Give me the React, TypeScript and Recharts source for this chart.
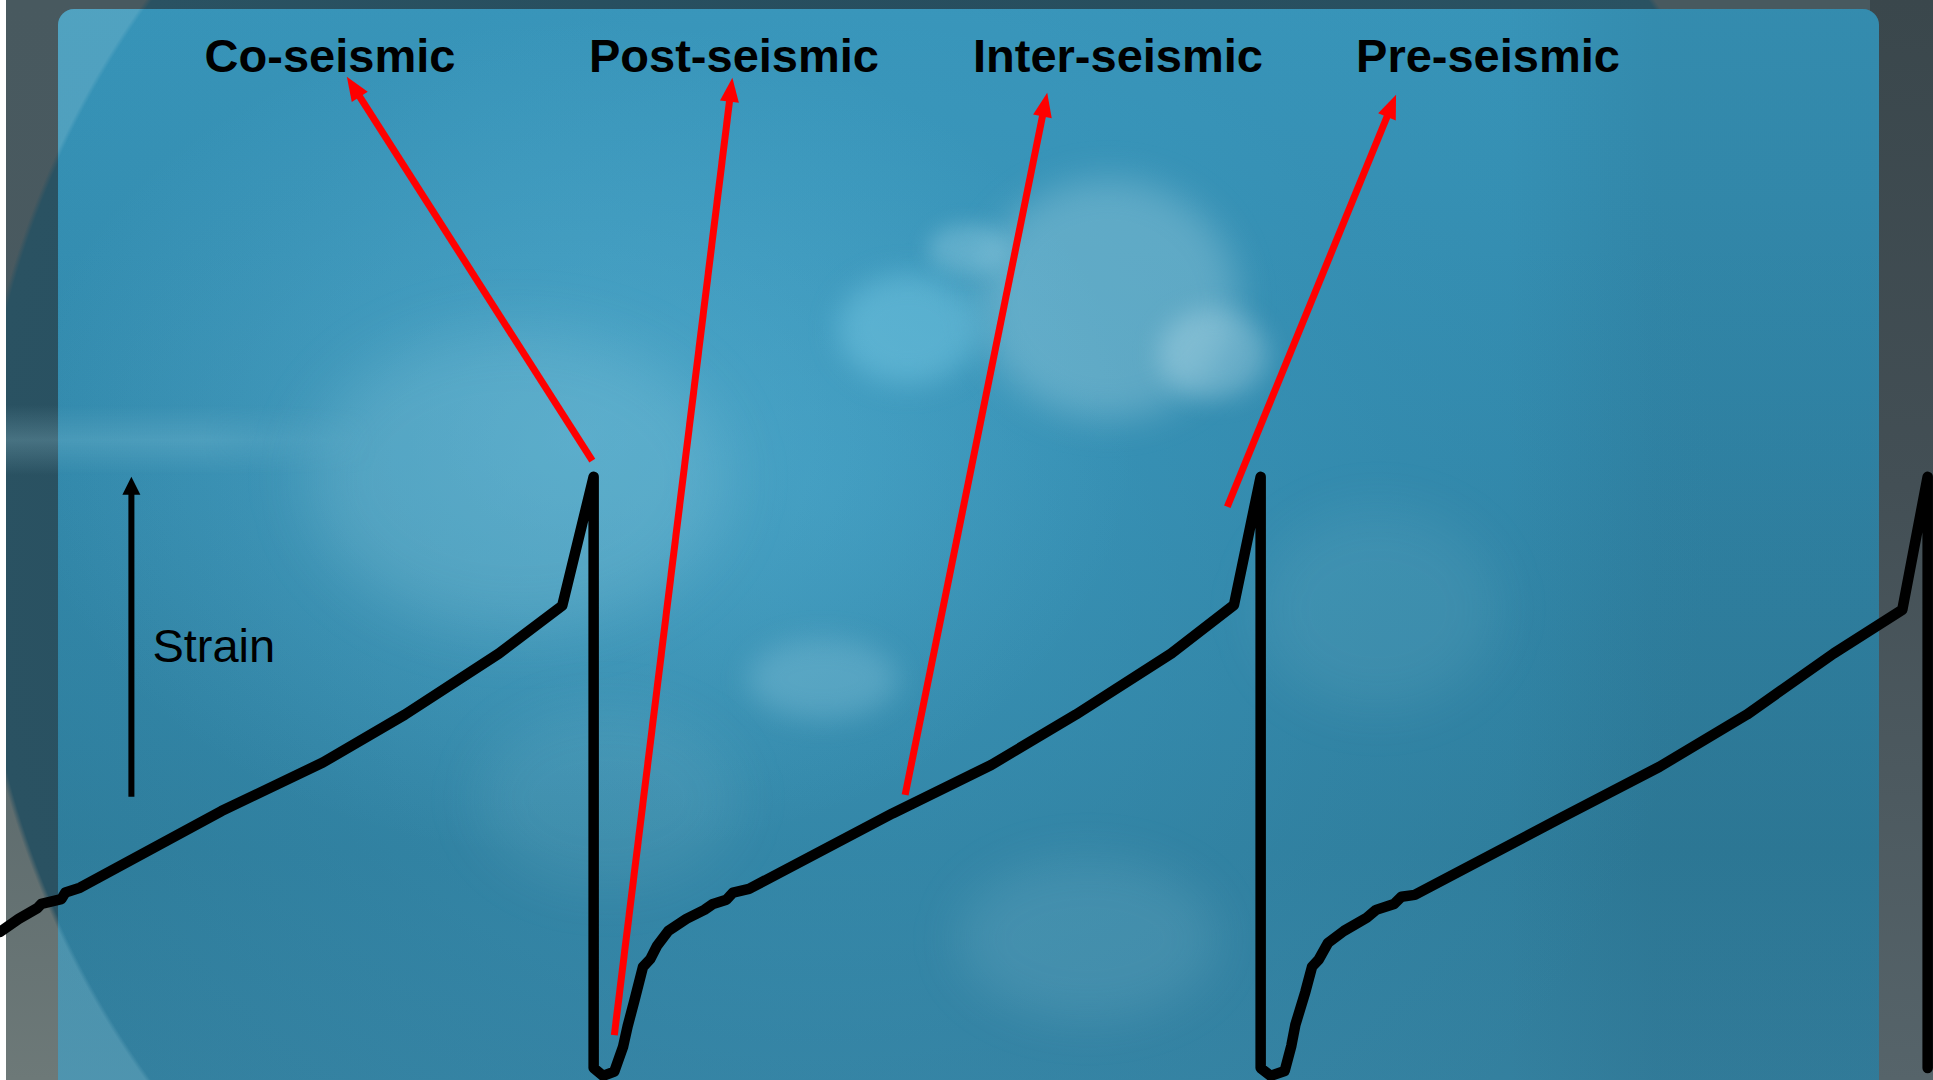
import { Line, LineChart, ReferenceLine, XAxis, YAxis } from 'recharts'

const W = 1933
const H = 1080
const FONT = '"Liberation Sans", Arial, Helvetica, sans-serif'

// time axis in years (one seismic cycle ~ 100 yr), strain in % of failure strain
const years = [
  11, 13.8, 16.6, 17.2, 20.2, 20.8, 23.0, 44.2, 59.4, 71.7, 85.8, 95.3, 100,
  100, 101.4, 103.1, 104.4, 105.1, 106.1, 107.4, 108.5, 109.5, 111.2, 113.9, 116.6, 117.9, 119.9, 120.9, 123.3,
  144.8, 159.6, 172.3, 186.6, 196.0, 200,
  200, 201.5, 203.6, 204.6, 205.2, 206.7, 207.7, 208.7, 210.1, 212.5, 215.9, 217.3, 220.0, 221.1, 223.1,
  245.1, 259.8, 272.9, 285.9, 296.2, 300,
  300,
]
const strain = [
  24.0, 26.2, 28.0, 28.7, 29.5, 30.6, 31.4, 44.2, 52.3, 60.3, 70.5, 78.5, 100,
  1.3, 0, 0.7, 4.8, 8.3, 12.5, 18.2, 19.5, 21.7, 24.2, 26.2, 27.7, 28.7, 29.4, 30.6, 31.2,
  43.8, 51.9, 60.3, 70.5, 78.6, 100,
  1.3, 0, 0.8, 5.0, 8.5, 14.0, 18.2, 19.4, 22.2, 24.2, 26.4, 27.7, 28.7, 29.9, 30.2,
  43.1, 51.6, 60.3, 70.5, 77.8, 100,
  1.3,
]

const phaseNames = ['Co-seismic', 'Post-seismic', 'Inter-seismic', 'Pre-seismic']
const arrowFromYear = [99.8, 103.1, 146.7, 195.0]
const arrowFromStrain = [102.7, 6.8, 46.9, 95.0]
const arrowToYear = [63.0, 120.8, 168.0, 220.3]
const arrowToStrain = [166.8, 166.6, 164.1, 163.8]

const strainAxisYear = 30.7
const strainAxisFrom = 46.6
const strainAxisTo = 100

// label layout (px)
const LABEL_CENTER_X = [330, 734, 1118, 1488]
const LABEL_BASELINE = 72

const data = years.map((y, i) => ({ year: y, strain: strain[i] }))

interface ArrowProps {
  x1?: number
  y1?: number
  x2?: number
  y2?: number
  color: string
  lineWidth: number
  head: number
  half: number
  children?: React.ReactNode
}

function Arrow({ x1 = 0, y1 = 0, x2 = 0, y2 = 0, color, lineWidth, head, half, children }: ArrowProps) {
  const dx = x2 - x1
  const dy = y2 - y1
  const len = Math.hypot(dx, dy) || 1
  const ux = dx / len
  const uy = dy / len
  const bx = x2 - ux * head
  const by = y2 - uy * head
  const px = -uy
  const py = ux
  return (
    <g>
      <line x1={x1} y1={y1} x2={bx + ux * 2} y2={by + uy * 2} stroke={color} strokeWidth={lineWidth} />
      <polygon
        points={`${x2},${y2} ${bx + px * half},${by + py * half} ${bx - px * half},${by - py * half}`}
        fill={color}
      />
      {children}
    </g>
  )
}

const blob = (left: number, top: number, w: number, h: number, color: string, blur: number) => (
  <div
    style={{
      position: 'absolute',
      left,
      top,
      width: w,
      height: h,
      borderRadius: '50%',
      background: color,
      filter: `blur(${blur}px)`,
    }}
  />
)

function Backdrop() {
  return (
    <div style={{ position: 'absolute', left: 0, top: 0, width: W, height: H, overflow: 'hidden', background: '#fff' }}>
      {/* outer frame */}
      <div
        style={{
          position: 'absolute',
          left: 6,
          top: 0,
          width: W - 6,
          height: H,
          background:
            'radial-gradient(circle 928px at 894px 540px, #24495a 0%, #2a5262 99.4%, rgba(0,0,0,0) 100%), linear-gradient(180deg, #48595f 0%, #4a5a60 40%, #5e6c6e 72%, #6d7978 100%)',
        }}
      />
      <div
        style={{
          position: 'absolute',
          left: 1870,
          top: 0,
          width: 63,
          height: H,
          background: 'linear-gradient(180deg, #3a474c 0%, #434f55 45%, #56646a 100%)',
        }}
      />
      <div
        style={{
          position: 'absolute',
          left: 6,
          top: 405,
          width: 300,
          height: 70,
          background: 'linear-gradient(180deg, rgba(160,210,225,0) 0%, rgba(160,210,225,0.25) 50%, rgba(160,210,225,0) 100%)',
        }}
      />
      {/* panel */}
      <div
        style={{
          position: 'absolute',
          left: 58,
          top: 9,
          width: 1821,
          height: 1120,
          borderRadius: 16,
          overflow: 'hidden',
          background:
            'radial-gradient(ellipse 560px 420px at 520px 430px, rgba(120,205,235,0.3), rgba(120,205,235,0) 100%), radial-gradient(circle 900px at 760px 480px, rgba(70,170,210,0.42) 0%, rgba(60,150,190,0.2) 65%, rgba(40,110,140,0) 100%), linear-gradient(180deg, #3794b8 0%, #3187a9 40%, #2e7c9a 75%, #3581a0 100%)',
        }}
      >
        {/* edge of the globe, lower left */}
        <div
          style={{
            position: 'absolute',
            left: 0,
            top: 0,
            width: 420,
            height: 1120,
            background: 'radial-gradient(circle 928px at 842px 531px, rgba(0,0,0,0) 99.5%, rgba(140,195,212,0.3) 100%)',
          }}
        />
        {/* darker right side */}
        <div
          style={{
            position: 'absolute',
            left: 1450,
            top: 0,
            width: 371,
            height: 1120,
            background: 'linear-gradient(90deg, rgba(30,80,105,0) 0%, rgba(30,80,105,0.12) 40%, rgba(30,80,105,0.12) 100%)',
          }}
        />
        <div
          style={{
            position: 'absolute',
            left: 0,
            top: 396,
            width: 320,
            height: 70,
            background: 'linear-gradient(180deg, rgba(160,215,230,0) 0%, rgba(160,215,230,0.2) 50%, rgba(160,215,230,0) 100%)',
            maskImage: 'linear-gradient(90deg, #000 0%, #000 45%, rgba(0,0,0,0) 100%)',
            WebkitMaskImage: 'linear-gradient(90deg, #000 0%, #000 45%, rgba(0,0,0,0) 100%)',
          }}
        />
        {/* clouds */}
        {blob(920, 170, 260, 240, 'rgba(190,225,235,0.3)', 18)}
        {blob(1100, 300, 110, 90, 'rgba(200,230,240,0.32)', 12)}
        {blob(780, 265, 140, 110, 'rgba(130,210,235,0.4)', 14)}
        {blob(870, 215, 80, 50, 'rgba(180,225,240,0.3)', 10)}
        {blob(250, 320, 420, 300, 'rgba(170,220,235,0.18)', 30)}
        {blob(690, 630, 150, 80, 'rgba(170,220,235,0.25)', 14)}
        {blob(900, 850, 260, 160, 'rgba(170,215,230,0.14)', 24)}
        {blob(1200, 500, 240, 200, 'rgba(170,215,230,0.1)', 26)}
        {blob(420, 700, 260, 180, 'rgba(170,215,230,0.1)', 26)}
      </div>
    </div>
  )
}

export default function App() {
  return (
    <div style={{ position: 'absolute', left: 0, top: 0, width: W, height: H, overflow: 'hidden' }}>
      <Backdrop />
      <div style={{ position: 'absolute', left: 0, top: 0 }}>
        <LineChart width={W} height={H} data={data} margin={{ top: 0, right: 0, bottom: 0, left: 0 }}>
          <XAxis type="number" dataKey="year" domain={[11, 300.8]} hide allowDataOverflow />
          <YAxis type="number" domain={[-0.7, 179.6]} hide allowDataOverflow width={0} />
          <Line
            type="linear"
            dataKey="strain"
            stroke="#000000"
            strokeWidth={10.5}
            strokeLinejoin="round"
            strokeLinecap="round"
            dot={false}
            activeDot={false}
            isAnimationActive={false}
          />
          {phaseNames.map((name, i) => (
            <ReferenceLine
              key={name}
              segment={[
                { x: arrowFromYear[i], y: arrowFromStrain[i] },
                { x: arrowToYear[i], y: arrowToStrain[i] },
              ]}
              ifOverflow="visible"
              stroke="#ff0000"
              shape={(p: any) => (
                <Arrow {...p} color="#ff0000" lineWidth={7} head={24} half={9.5}>
                  <text
                    x={LABEL_CENTER_X[i]}
                    y={LABEL_BASELINE}
                    textAnchor="middle"
                    fontFamily={FONT}
                    fontWeight="bold"
                    fontSize={47}
                    fill="#000"
                  >
                    {name}
                  </text>
                </Arrow>
              )}
            />
          ))}
          <ReferenceLine
            segment={[
              { x: strainAxisYear, y: strainAxisFrom },
              { x: strainAxisYear, y: strainAxisTo },
            ]}
            ifOverflow="visible"
            stroke="#000"
            shape={(p: any) => (
              <Arrow {...p} color="#000" lineWidth={6} head={18} half={9}>
                <text x={(p.x1 ?? 0) + 21} y={662} fontFamily={FONT} fontSize={47} fill="#000">
                  Strain
                </text>
              </Arrow>
            )}
          />
        </LineChart>
      </div>
    </div>
  )
}
